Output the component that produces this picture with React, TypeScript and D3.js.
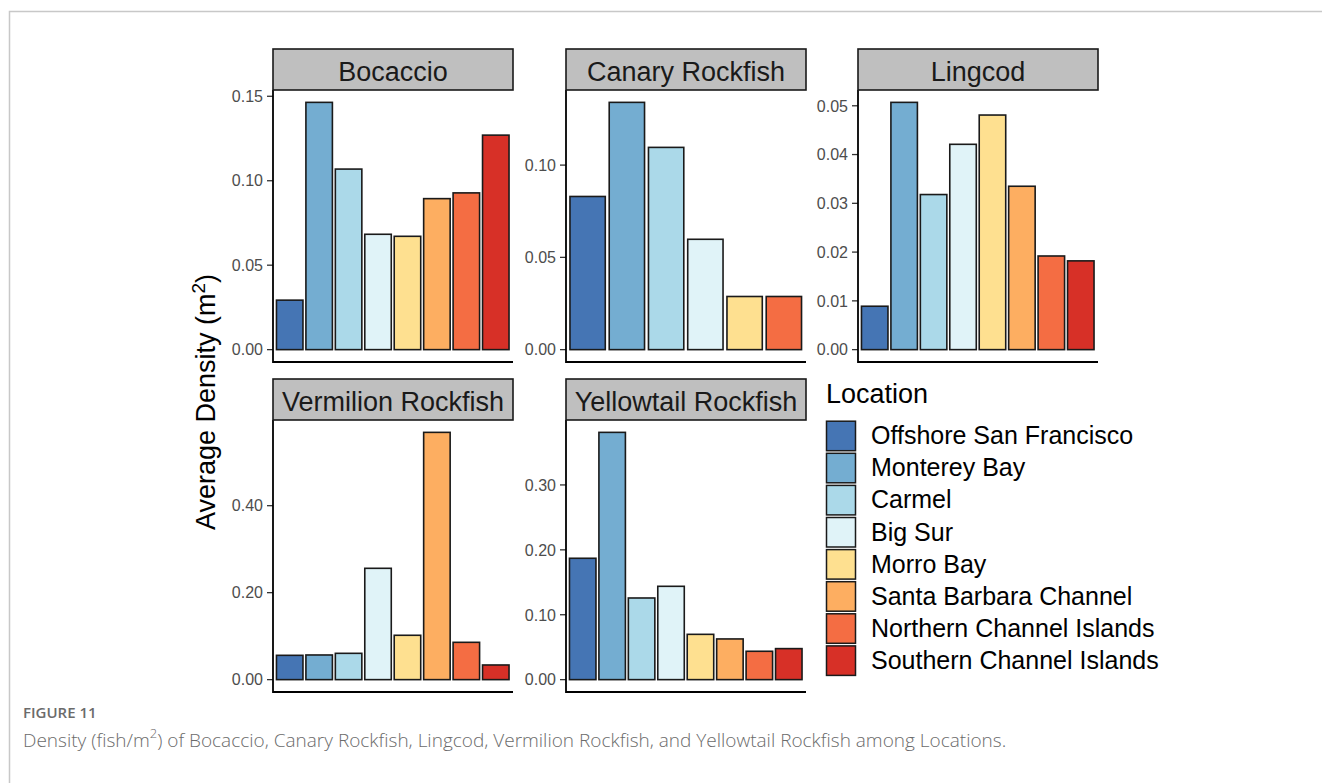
import React from 'react';
import * as d3 from 'd3';

// locations + fill colours (RdYlBu, reversed)
const locations = [
  'Offshore San Francisco',
  'Monterey Bay',
  'Carmel',
  'Big Sur',
  'Morro Bay',
  'Santa Barbara Channel',
  'Northern Channel Islands',
  'Southern Channel Islands',
];
const locationColors = ['#4575b4', '#74add1', '#abd9e9', '#e0f3f8', '#fee090', '#fdae61', '#f46d43', '#d73027'];

const canaryLocations = [
  'Offshore San Francisco',
  'Monterey Bay',
  'Carmel',
  'Big Sur',
  'Morro Bay',
  'Northern Channel Islands',
];

// average density per location
const bocaccio = [0.0293, 0.1464, 0.1069, 0.0683, 0.0671, 0.0894, 0.0928, 0.127];
const canary = [0.083, 0.134, 0.1096, 0.0598, 0.0288, 0.0288];
const lingcod = [0.0089, 0.0507, 0.0318, 0.0421, 0.0481, 0.0335, 0.0192, 0.0182];
const vermilion = [0.0559, 0.0567, 0.0605, 0.256, 0.102, 0.5686, 0.0858, 0.0337];
const yellowtail = [0.187, 0.381, 0.1258, 0.1438, 0.0698, 0.0627, 0.0437, 0.0478];

// y tick values
const bocaccioTicks = [0, 0.05, 0.1, 0.15];
const canaryTicks = [0, 0.05, 0.1];
const lingcodTicks = [0, 0.01, 0.02, 0.03, 0.04, 0.05];
const vermilionTicks = [0, 0.2, 0.4];
const yellowtailTicks = [0, 0.1, 0.2, 0.3];

const panels = [
  { title: 'Bocaccio', cats: locations, values: bocaccio, ticks: bocaccioTicks, col: 0, row: 0 },
  { title: 'Canary Rockfish', cats: canaryLocations, values: canary, ticks: canaryTicks, col: 1, row: 0 },
  { title: 'Lingcod', cats: locations, values: lingcod, ticks: lingcodTicks, col: 2, row: 0 },
  { title: 'Vermilion Rockfish', cats: locations, values: vermilion, ticks: vermilionTicks, col: 0, row: 1 },
  { title: 'Yellowtail Rockfish', cats: locations, values: yellowtail, ticks: yellowtailTicks, col: 1, row: 1 },
];

const colX = [273, 566, 858];
const rowY = [49, 379];
const stripW = 240;
const stripH = 41;
const panelH = 272;
const font = '"Liberation Sans", Arial, sans-serif';
const fmt = d3.format('.2f');
const color = d3.scaleOrdinal<string, string>().domain(locations).range(locationColors);

function Panel({ p }) {
  const x0 = colX[p.col];
  const top = rowY[p.row] + stripH;
  const bottom = top + panelH;
  const max = d3.max(p.values) as number;
  const y = d3.scaleLinear().domain([-0.05 * max, 1.05 * max]).range([bottom, top]);
  const x = d3
    .scaleBand<string>()
    .domain(p.cats)
    .range([x0 + 2, x0 + stripW - 2.5])
    .paddingInner(0.1)
    .paddingOuter(0.05);

  return (
    <g>
      {p.values.map((v, i) => (
        <rect
          key={p.cats[i]}
          x={x(p.cats[i])}
          y={y(v)}
          width={x.bandwidth()}
          height={y(0) - y(v)}
          fill={color(p.cats[i])}
          stroke="#1a1a1a"
          strokeWidth={1.6}
        />
      ))}
      {p.ticks.map((t) => (
        <g key={t} transform={`translate(${x0}, ${y(t)})`}>
          <line x1={-6} x2={0} stroke="#333" strokeWidth={1.3} />
          <text x={-10} dy="0.36em" textAnchor="end" fontSize={16} fill="#4d4d4d" fontFamily={font}>
            {fmt(t)}
          </text>
        </g>
      ))}
      <path d={`M${x0},${top} V${bottom} H${x0 + stripW}`} fill="none" stroke="#000" strokeWidth={1.8} />
      <rect x={x0} y={rowY[p.row]} width={stripW} height={stripH} fill="#bfbfbf" stroke="#1a1a1a" strokeWidth={1.6} />
      <text
        x={x0 + stripW / 2}
        y={rowY[p.row] + 31.5}
        textAnchor="middle"
        fontSize={27}
        fill="#1a1a1a"
        fontFamily={font}
      >
        {p.title}
      </text>
    </g>
  );
}

export default function App() {
  return (
    <svg width={1322} height={783} style={{ position: 'absolute', left: 0, top: 0, background: '#fff' }}>
      <path d="M9.5,783 V11.5 H1322" fill="none" stroke="#c8c8c8" strokeWidth={1.5} />

      <text
        transform="translate(215, 402) rotate(-90)"
        textAnchor="middle"
        fontSize={27}
        fill="#000"
        fontFamily={font}
      >
        Average Density (m
        <tspan baselineShift="super" fontSize={19}>2</tspan>)
      </text>

      {panels.map((p) => (
        <Panel key={p.title} p={p} />
      ))}

      <g>
        <text x={826} y={403} fontSize={27} fill="#000" fontFamily={font}>
          Location
        </text>
        {locations.map((loc, i) => (
          <g key={loc} transform={`translate(826, ${420.7 + i * 32.1})`}>
            <rect x={0.5} y={0.5} width={29} height={29.5} fill={color(loc)} stroke="#1a1a1a" strokeWidth={1.5} />
            <text x={45} y={23.5} fontSize={25} fill="#000" fontFamily={font}>
              {loc}
            </text>
          </g>
        ))}
      </g>

      <text x={23} y={718} fontSize={15} fill="#6b6b6b" fontFamily='"Open Sans", sans-serif' fontWeight={600}>
        FIGURE 11
      </text>
      <text x={23} y={747} fontSize={19} fill="#6b6b6b" fontFamily='"Open Sans", sans-serif' fontWeight={300}>
        Density (fish/m<tspan baselineShift="super" fontSize={13}>2</tspan>) of Bocaccio, Canary Rockfish, Lingcod,
        Vermilion Rockfish, and Yellowtail Rockfish among Locations.
      </text>
    </svg>
  );
}
